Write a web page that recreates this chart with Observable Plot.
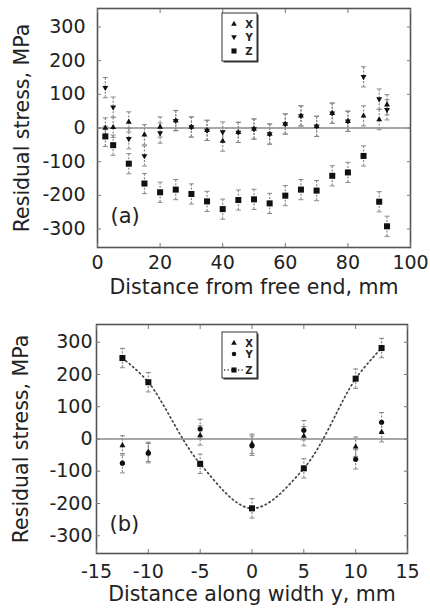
<!DOCTYPE html>
<html>
<head>
<meta charset="utf-8">
<script src="https://cdn.jsdelivr.net/npm/d3@7"></script>
<script src="https://cdn.jsdelivr.net/npm/@observablehq/plot@0.6"></script>
<style>
  html, body { margin: 0; padding: 0; background: #fff; }
  #chart { width: 430px; }
  #chart svg { display: block; font-family: "DejaVu Sans", sans-serif; }
</style>
</head>
<body>
<div id="chart"></div>
<script>
// ---------- Data: panel (a) ----------
const posA = [2.5, 5, 10, 15, 20, 25, 30, 35, 40, 45, 50, 55, 60, 65, 70, 75, 80, 85, 90, 92.5];
const aX = [0, 2, 18, -20, 3, 22, 3, -7, -39, -13, -3, -18, 12, 36, 5, 44, 20, 36, 25, 69];
const aY = [120, 62, -32, -83, -15, 22, 3, -7, -12, -13, -3, -18, 12, 36, 5, 44, 20, 152, 86, 54];
const aZ = [-25, -51, -106, -165, -191, -183, -196, -218, -241, -214, -212, -224, -201, -183, -186, -142, -132, -83, -219, -292];
const aErr = [30, 30, 30, 30, 30, 30, 30, 30, 30, 30, 30, 30, 30, 30, 30, 30, 30, 30, 30, 30];

// ---------- Data: panel (b) ----------
const posB = [-12.5, -10, -5, 0, 5, 10, 12.5];
const bX = [-20, -40, 11, -15, 9, -24, 21];
const bY = [-75, -44, 31, -21, 27, -63, 52];
const bZ = [251, 176, -77, -215, -91, 187, 282];
const bErr = [30, 30, 30, 30, 30, 30, 30];

// ---------- Tick labels / text ----------
const yTicks = [-300, -200, -100, 0, 100, 200, 300];
const xTicksA = [0, 20, 40, 60, 80, 100];
const xTicksB = [-15, -10, -5, 0, 5, 10, 15];
const yLabel = "Residual stress, MPa";
const xLabelA = "Distance from free end, mm";
const xLabelB = "Distance along width y, mm";
const seriesNames = ["X", "Y", "Z"];

// ---------- Symbols ----------
const triDown = {
  draw(ctx, size) {
    const y = -Math.sqrt(size / (3 * Math.sqrt(3)));
    ctx.moveTo(0, -2 * y);
    ctx.lineTo(-Math.sqrt(3) * y, y);
    ctx.lineTo(Math.sqrt(3) * y, y);
    ctx.closePath();
  }
};
const capSym = { draw(ctx) { ctx.moveTo(-2.5, 0); ctx.lineTo(2.5, 0); } };
const fmt = d => String(d); // hyphen-minus, as in the reference

function rows(xs, vals, errs, s) {
  return xs.map((x, i) => ({ x, v: vals[i], e: errs[i], s }));
}

function panel(o) {
  const data = [
    ...rows(o.xs, o.X, o.err, "X"),
    ...rows(o.xs, o.Y, o.err, "Y"),
    ...rows(o.xs, o.Z, o.err, "Z")
  ];
  const zRows = data.filter(d => d.s === "Z");
  const symFor = { X: "triangle", Y: o.ySym, Z: "square" };
  const rFor = { X: 2.2, Y: o.ySym === "circle" ? 2.6 : 2.2, Z: 3.4 };
  const marks = [
    Plot.ruleY([0], { stroke: "#8a8a8a", strokeWidth: 1.5 }),
    o.curve ? Plot.line(zRows, { x: "x", y: "v", curve: "catmull-rom", stroke: "#444", strokeWidth: 1.7, strokeDasharray: "1.3,3.2", strokeLinecap: "round" }) : null,
    Plot.ruleX(data, { x: "x", y1: d => d.v - d.e, y2: d => d.v + d.e, stroke: "#888", strokeWidth: 1.2, strokeDasharray: "2,1.5" }),
    Plot.dot(data, { x: "x", y: d => d.v + d.e, symbol: capSym, fill: "none", stroke: "#888", strokeWidth: 1 }),
    Plot.dot(data, { x: "x", y: d => d.v - d.e, symbol: capSym, fill: "none", stroke: "#888", strokeWidth: 1 }),
    ...seriesNames.map(s => Plot.dot(data.filter(d => d.s === s), { x: "x", y: "v", symbol: symFor[s], r: rFor[s], fill: "#111", stroke: "none" })),
    Plot.frame({ stroke: "#555", strokeWidth: 1.6 }),
    Plot.axisX({ ticks: o.xTicks, tickSize: 0, tickPadding: o.xPad, tickFormat: fmt, fontSize: 19, fill: "#222", label: null }),
    Plot.axisX({ anchor: "bottom", ticks: o.xTicks, tickSize: -4, tickFormat: () => "", stroke: "#777", label: null }),
    Plot.axisX({ anchor: "top", ticks: o.xTicks, tickSize: -4, tickFormat: () => "", stroke: "#777", label: null }),
    Plot.axisY({ ticks: yTicks, tickSize: 0, tickPadding: o.yPad, tickFormat: fmt, fontSize: 19, fill: "#222", label: null }),
    Plot.axisY({ anchor: "left", ticks: yTicks, tickSize: -4, tickFormat: () => "", stroke: "#777", label: null }),
    Plot.axisY({ anchor: "right", ticks: yTicks, tickSize: -4, tickFormat: () => "", stroke: "#777", label: null }),
    Plot.text([o.xLabel], { frameAnchor: "bottom", dy: o.xLabDy, fontSize: 20.5, fill: "#222" }),
    Plot.text([yLabel], { frameAnchor: "left", textAnchor: "middle", dx: -75, rotate: -90, fontSize: 20.5, fill: "#222" }),
    Plot.text([o.tag], { frameAnchor: "bottom-left", textAnchor: "start", dx: 13, dy: o.tagDy, fontSize: 21, fill: "#222" })
  ];
  const svg = Plot.plot({
    width: 430,
    height: o.height,
    marginTop: o.mt, marginBottom: o.mb, marginLeft: o.ml, marginRight: o.mr,
    x: { domain: o.xDomain },
    y: { domain: [-355, 355] },
    style: { fontFamily: "'DejaVu Sans', sans-serif", background: "#fff", overflow: "visible" },
    marks
  });
  // legend
  const g = d3.select(svg).append("g").attr("transform", `translate(${o.leg[0]},${o.leg[1]})`);
  g.append("rect").attr("x", 1.5).attr("y", 1.5).attr("width", 35).attr("height", o.legH).attr("fill", "#333");
  g.append("rect").attr("x", 0).attr("y", 0).attr("width", 35).attr("height", o.legH).attr("fill", "#fff").attr("stroke", "#333").attr("stroke-width", 1);
  const legSyms = { X: d3.symbolTriangle, Y: o.ySym === "circle" ? d3.symbolCircle : triDown, Z: d3.symbolSquare };
  const legSize = { X: 14, Y: o.ySym === "circle" ? 16 : 14, Z: 26 };
  seriesNames.forEach((s, i) => {
    const yy = o.legRows[i];
    if (s === "Z" && o.curve) {
      g.append("line").attr("x1", 2).attr("x2", 21).attr("y1", yy).attr("y2", yy)
        .attr("stroke", "#444").attr("stroke-width", 1.3).attr("stroke-dasharray", "1.3,2.2");
    }
    g.append("path").attr("d", d3.symbol(legSyms[s], legSize[s])()).attr("transform", `translate(12,${yy})`).attr("fill", "#111");
    g.append("text").attr("x", 27).attr("y", yy).attr("dy", "0.36em").attr("text-anchor", "middle")
      .attr("font-size", 10).attr("font-weight", "bold").attr("fill", "#222").text(s);
  });
  return svg;
}

const chart = document.getElementById("chart");
chart.append(panel({
  height: 300, mt: 8, mb: 53, ml: 97, mr: 20,
  xs: posA, X: aX, Y: aY, Z: aZ, err: aErr, ySym: triDown, curve: false,
  xDomain: [0, 100], xTicks: xTicksA, xLabel: xLabelA, tag: "(a)",
  xPad: 8, yPad: 12, xLabDy: 46, tagDy: -25,
  leg: [222, 13], legH: 48, legRows: [11, 24, 38]
}));
chart.append(panel({
  height: 315, mt: 24, mb: 62, ml: 96, mr: 23,
  xs: posB, X: bX, Y: bY, Z: bZ, err: bErr, ySym: "circle", curve: true,
  xDomain: [-15, 15], xTicks: xTicksB, xLabel: xLabelB, tag: "(b)",
  xPad: 11, yPad: 4, xLabDy: 47, tagDy: -23,
  leg: [222, 32], legH: 46, legRows: [11, 22, 38]
}));
</script>
</body>
</html>
